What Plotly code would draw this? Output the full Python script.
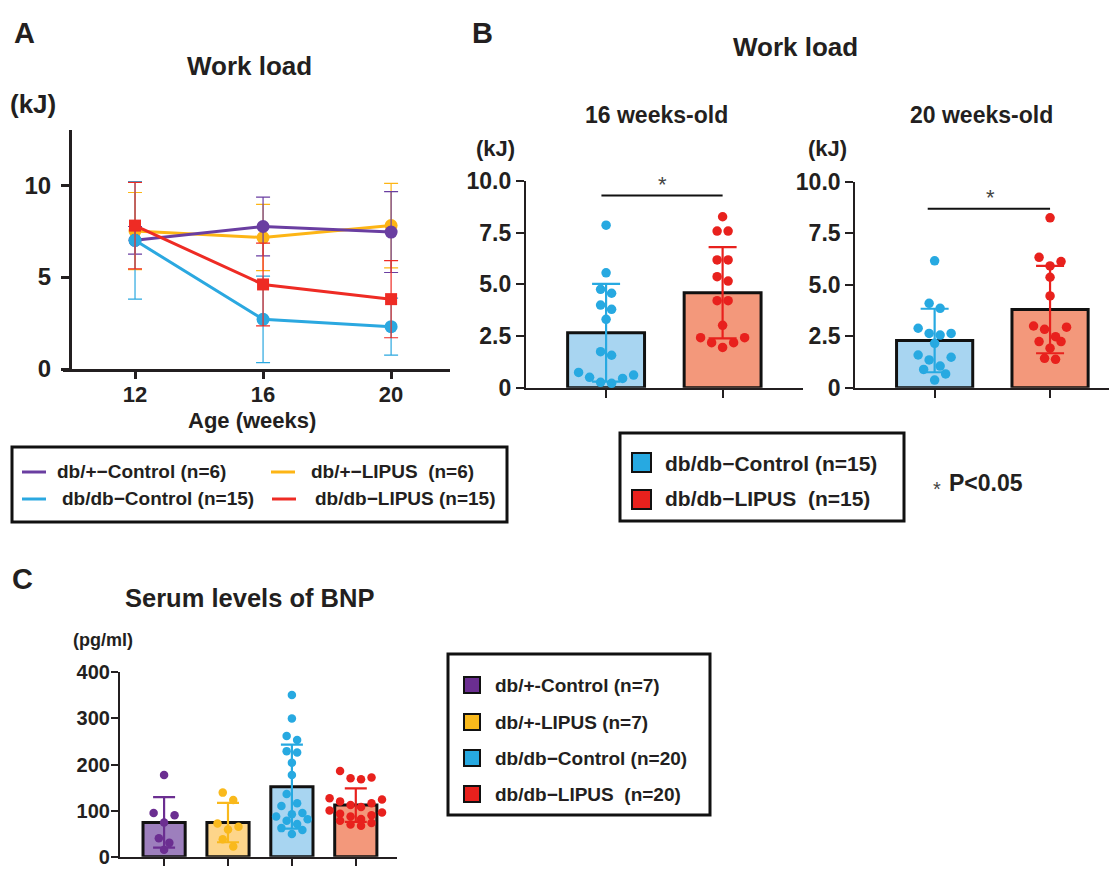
import numpy as np
import plotly.graph_objects as go

# ---------------- data ----------------
# Panel A: work load over age (mean, SD)
weeks = [12, 16, 20]
a_dbp_ctrl = [7.0, 7.75, 7.45]
a_dbp_ctrl_sd = [0.75, 1.6, 2.2]
a_dbp_lipus = [7.5, 7.15, 7.8]
a_dbp_lipus_sd = [2.1, 1.8, 2.3]
a_dbdb_ctrl = [7.0, 2.7, 2.3]
a_dbdb_ctrl_sd = [3.2, 2.35, 1.55]
a_dbdb_lipus = [7.8, 4.6, 3.8]
a_dbdb_lipus_sd = [2.35, 2.25, 2.1]

# Panel B: individual work load values (kJ)
w16_ctrl = [7.86, 5.56, 4.76, 4.57, 4.0, 3.79, 3.31, 1.74, 1.57, 0.74, 0.61, 0.5, 0.45, 0.26, 0.21]
w16_lipus = [8.27, 7.58, 7.58, 6.18, 6.18, 5.37, 5.16, 4.21, 4.21, 3.02, 2.42, 2.42, 2.18, 2.18, 1.95]
w20_ctrl = [6.17, 4.1, 3.86, 2.89, 2.64, 2.64, 2.56, 2.16, 1.59, 1.48, 1.35, 1.05, 0.89, 0.67, 0.37]
w20_lipus = [8.26, 6.34, 6.13, 5.92, 5.37, 4.46, 3.0, 2.94, 2.84, 2.48, 2.24, 2.24, 1.92, 1.43, 1.38]

# Panel C: serum BNP (pg/ml)
bnp_dbp_ctrl = [177, 95, 90, 74, 40, 30, 15]
bnp_dbp_lipus = [139, 123, 72, 65, 59, 38, 22]
bnp_dbdb_ctrl = [351, 300, 262, 253, 229, 226, 204, 177, 136, 116, 110, 95, 92, 87, 81, 78, 71, 62, 58, 49]
bnp_dbdb_lipus = [186, 172, 170, 168, 127, 124, 120, 116, 112, 108, 100, 96, 93, 90, 87, 82, 78, 73, 70, 67]

yticks_B = [0, 2.5, 5.0, 7.5, 10.0]
yticks_B_text = ["0", "2.5", "5.0", "7.5", "10.0"]

# ---------------- style ----------------
PAGE_OFF = 8                      # default body margin of the html page
W, H = 1117 - PAGE_OFF, 885 - PAGE_OFF
FONT = "Liberation Sans, Arial, Helvetica, sans-serif"
INK = "#231f20"
PURPLE, ORANGE, BLUE, RED = "#6a3ea1", "#fdb515", "#2ba8e0", "#ee2b24"
DOT = {"p": "#6b2e91", "o": "#f9b91c", "b": "#27a9e1", "r": "#e8211d"}
FILL = {"p": "#9d7fbd", "o": "#fdd58a", "b": "#a8d5f1", "r": "#f3987b"}


def PX(x):
    return (x - PAGE_OFF) / W


def PY(y):
    return 1 - (y - PAGE_OFF) / H


def swarm(vals, ypx, xpx, spacing=11.0, rowh=11.5):
    """Deterministic row-based dot arrangement (GraphPad-like)."""
    order = sorted(range(len(vals)), key=lambda i: -vals[i])
    rows, cur = [], []
    for i in order:
        if cur and (vals[cur[0]] - vals[i]) * ypx > rowh:
            rows.append(cur)
            cur = []
        cur.append(i)
    rows.append(cur)
    off = [0.0] * len(vals)
    for r in rows:
        n = len(r)
        if n % 2:
            slots = [0.0]
            k = 1
            while len(slots) < n:
                slots += [k, -k]
                k += 1
        else:
            slots = []
            k = 0.5
            while len(slots) < n:
                slots += [k, -k]
                k += 1
        for j, i in enumerate(sorted(r, key=lambda q: vals[q])):
            off[i] = slots[j] * spacing / xpx
    return off


fig = go.Figure()

# ---------------- Panel A ----------------
A_series = [
    (a_dbp_lipus, a_dbp_lipus_sd, ORANGE, "circle"),
    (a_dbp_ctrl, a_dbp_ctrl_sd, PURPLE, "circle"),
    (a_dbdb_ctrl, a_dbdb_ctrl_sd, BLUE, "circle"),
    (a_dbdb_lipus, a_dbdb_lipus_sd, RED, "square"),
]
for vals, sds, col, sym in A_series:
    fig.add_trace(go.Scatter(
        x=weeks, y=vals, mode="lines+markers", xaxis="x", yaxis="y",
        line=dict(color=col, width=3),
        marker=dict(symbol=sym, size=13 if sym == "circle" else 12, color=col),
        error_y=dict(type="data", array=sds, color=col, thickness=1.2, width=7),
        cliponaxis=False, showlegend=False, hoverinfo="skip"))


def add_group(xaxis, yaxis, xpos, vals, key, ypx, xpx, cap, dsize, spacing, rowh):
    m = float(np.mean(vals))
    s = float(np.std(vals, ddof=1))
    off = swarm(vals, ypx, xpx, spacing, rowh)
    fig.add_trace(go.Bar(
        x=[xpos], y=[m], width=0.66, xaxis=xaxis, yaxis=yaxis,
        marker=dict(color=FILL[key], line=dict(color="#111111", width=3)),
        showlegend=False, hoverinfo="skip"))
    fig.add_trace(go.Scatter(
        x=[xpos + o for o in off], y=vals, mode="markers", xaxis=xaxis, yaxis=yaxis,
        marker=dict(size=dsize, color=DOT[key]), cliponaxis=False,
        showlegend=False, hoverinfo="skip"))
    fig.add_trace(go.Scatter(
        x=[xpos], y=[m], mode="markers", xaxis=xaxis, yaxis=yaxis,
        marker=dict(size=1, opacity=0),
        error_y=dict(type="data", array=[s], color=DOT[key], thickness=2.2, width=cap),
        showlegend=False, hoverinfo="skip"))


# ---------------- Panel B ----------------
add_group("x2", "y2", 0, w16_ctrl, "b", 20.67, 116.5, 14, 9.5, 11.0, 11.5)
add_group("x2", "y2", 1, w16_lipus, "r", 20.67, 116.5, 14, 9.5, 11.0, 11.5)
add_group("x3", "y3", 0, w20_ctrl, "b", 20.57, 115.5, 14, 9.5, 11.0, 11.5)
add_group("x3", "y3", 1, w20_lipus, "r", 20.57, 115.5, 14, 9.5, 11.0, 11.5)

# ---------------- Panel C ----------------
for i, (vals, key) in enumerate([(bnp_dbp_ctrl, "p"), (bnp_dbp_lipus, "o"),
                                 (bnp_dbdb_ctrl, "b"), (bnp_dbdb_lipus, "r")]):
    add_group("x4", "y4", i, vals, key, 0.461, 64.0, 11, 8.5, 10.5, 10.0)

# ---------------- axes ----------------
def axis(**kw):
    base = dict(showgrid=False, zeroline=False, showline=True, linecolor=INK,
                ticks="outside", tickcolor=INK, fixedrange=True, automargin=False,
                tickfont=dict(family=FONT, size=23, color=INK, weight="bold"))
    base.update(kw)
    return base


layout = dict(
    width=W, height=H, margin=dict(l=0, r=0, t=0, b=0, pad=0), autosize=False,
    paper_bgcolor="white", plot_bgcolor="white", showlegend=False,
    font=dict(family=FONT, color=INK),
    xaxis=axis(domain=[PX(63), PX(450)], range=[9.75, 21.84], tickvals=weeks,
               linewidth=3, tickwidth=3, ticklen=7, anchor="y", ticklabelstandoff=-3,
               tickfont=dict(family=FONT, size=22, color=INK, weight="bold")),
    yaxis=axis(domain=[PY(369), PY(130)], range=[0, 13], tickvals=[0, 5, 10],
               anchor="free", position=PX(70), linewidth=3, tickwidth=3, ticklen=8,
               ticklabelstandoff=5,
               tickfont=dict(family=FONT, size=24, color=INK, weight="bold")),
    xaxis2=axis(domain=[PX(525.7), PX(803)], range=[-0.69, 1.69], tickvals=[0, 1],
                ticktext=["", ""], anchor="y2", linewidth=2.2, tickwidth=1.5, ticklen=8),
    yaxis2=axis(domain=[PY(387.7), PY(181)], range=[0, 10], tickvals=yticks_B,
                ticktext=yticks_B_text, anchor="x2", linewidth=1.6, tickwidth=1.6, ticklen=8),
    xaxis3=axis(domain=[PX(855), 1.0], range=[-0.69, 1.58], tickvals=[0, 1],
                ticktext=["", ""], anchor="y3", linewidth=2.2, tickwidth=1.5, ticklen=8),
    yaxis3=axis(domain=[PY(387.7), PY(182)], range=[0, 10], tickvals=yticks_B,
                ticktext=yticks_B_text, anchor="x3", linewidth=1.6, tickwidth=1.6, ticklen=8),
    xaxis4=axis(domain=[PX(120), PX(396.7)], range=[-0.69, 3.64], tickvals=[0, 1, 2, 3],
                ticktext=["", "", "", ""], anchor="y4", linewidth=2.2, tickwidth=1.5, ticklen=7),
    yaxis4=axis(domain=[PY(856.7), PY(672.3)], range=[0, 400], tickvals=[0, 100, 200, 300, 400],
                anchor="x4", linewidth=2.2, tickwidth=2, ticklen=7, ticklabelstandoff=-3,
                tickfont=dict(family=FONT, size=20, color=INK, weight="bold")),
)
fig.update_layout(**layout)

# ---------------- annotations ----------------
anns = []


def txt(t, x, y, size, xanchor="left", bold=True, color=INK):
    anns.append(dict(text=("<b>%s</b>" % t) if bold else t, x=PX(x), y=PY(y),
                     xref="paper", yref="paper", xanchor=xanchor, yanchor="middle",
                     showarrow=False, font=dict(family=FONT, size=size, color=color)))


txt("A", 12, 33, 29)
txt("B", 470, 33, 29)
txt("C", 10, 579, 29)
txt("Work load", 249, 66, 26, "center")
txt("(kJ)", 8, 104, 26)
txt("Age (weeks)", 252, 420, 22, "center")
txt("Work load", 795, 47, 26, "center")
txt("16 weeks-old", 656, 115, 23, "center")
txt("20 weeks-old", 981, 115, 23, "center")
txt("(kJ)", 474, 148, 22)
txt("(kJ)", 806, 148, 22)
txt("Serum levels of BNP", 249, 598, 25.5, "center")
txt("(pg/ml)", 71, 640, 18)

# significance asterisks
for xa, ya, yv in [("x2", "y2", 9.85), ("x3", "y3", 9.25)]:
    anns.append(dict(text="*", x=0.48, y=yv, xref=xa, yref=ya, showarrow=False,
                     xanchor="center", yanchor="middle",
                     font=dict(family=FONT, size=22, color="#444444")))

# legend A
txt("db/+\u2212Control (n=6)", 55, 472, 19)
txt("db/+\u2212LIPUS  (n=6)", 309, 472, 19)
txt("db/db\u2212Control (n=15)", 60, 499, 19)
txt("db/db\u2212LIPUS (n=15)", 313, 499, 19)

# legend B
txt("db/db\u2212Control (n=15)", 663, 463, 21)
txt("db/db\u2212LIPUS  (n=15)", 663, 499, 21)
txt("*", 931, 489, 20, bold=False, color="#444444")
txt("P<0.05", 947, 483, 23)

# legend C
txt("db/+-Control (n=7)", 493, 685, 19)
txt("db/+-LIPUS (n=7)", 493, 722, 19)
txt("db/db\u2212Control (n=20)", 493, 758, 19)
txt("db/db\u2212LIPUS  (n=20)", 493, 794, 19)

fig.update_layout(annotations=anns)

# ---------------- shapes ----------------
shapes = []


def rect(x0, y0, x1, y1, fill=None, lw=3):
    shapes.append(dict(type="rect", xref="paper", yref="paper",
                       x0=PX(x0), x1=PX(x1), y0=PY(y1), y1=PY(y0),
                       line=dict(color="#111111", width=lw),
                       fillcolor=fill if fill else "rgba(0,0,0,0)"))


def seg(x0, x1, y, color, lw=3):
    shapes.append(dict(type="line", xref="paper", yref="paper",
                       x0=PX(x0), x1=PX(x1), y0=PY(y), y1=PY(y),
                       line=dict(color=color, width=lw)))


# legend boxes
rect(12, 447, 507, 522)
seg(22, 46, 472, PURPLE)
seg(271, 295, 472, ORANGE)
seg(22, 46, 499, BLUE)
seg(272, 296, 499, RED)

rect(620, 433, 904, 521)
rect(632, 453, 651, 472, DOT["b"], 2)
rect(632, 490, 651, 509, DOT["r"], 2)

rect(448, 654, 710, 815)
for yy, k in [(685, "p"), (722, "o"), (758, "b"), (794, "r")]:
    rect(464, yy - 8, 480, yy + 8, DOT[k], 2)

# significance brackets (in data coordinates of panel B axes)
shapes.append(dict(type="line", xref="x2", yref="y2", x0=-0.04, x1=1.0, y0=9.3, y1=9.3,
                   line=dict(color="#111111", width=2)))
shapes.append(dict(type="line", xref="x3", yref="y3", x0=-0.06, x1=1.0, y0=8.7, y1=8.7,
                   line=dict(color="#111111", width=2)))

fig.update_layout(shapes=shapes)

fig.write_html("out.html")
